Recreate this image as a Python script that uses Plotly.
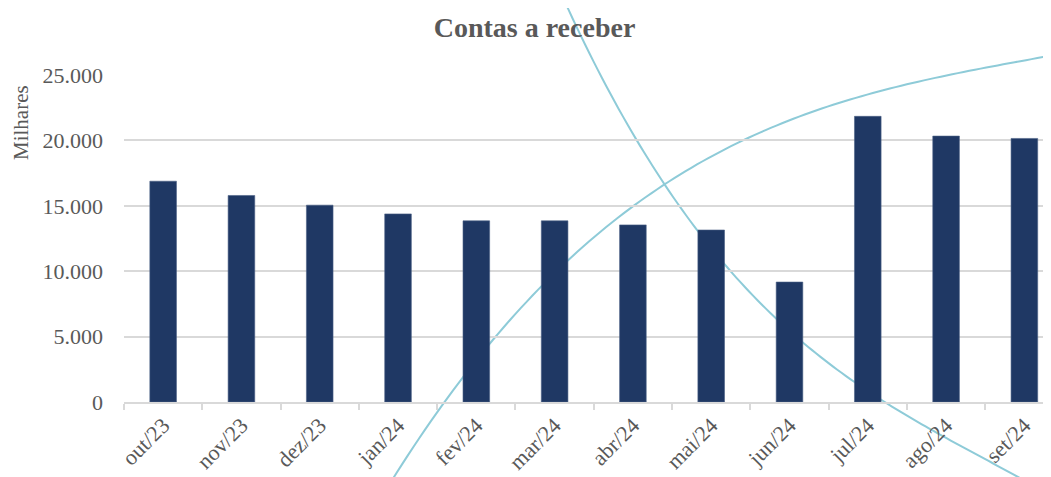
import numpy as np
import plotly.graph_objects as go

# ---- data ----
categories = ["out/23", "nov/23", "dez/23", "jan/24", "fev/24", "mar/24",
              "abr/24", "mai/24", "jun/24", "jul/24", "ago/24", "set/24"]
values = [16880, 15790, 15050, 14380, 13850, 13850,
          13540, 13150, 9170, 21840, 20330, 20150]
y_ticks = [0, 5000, 10000, 15000, 20000, 25000]
y_tick_labels = ["0", "5.000", "10.000", "15.000", "20.000", "25.000"]

# ---- layout geometry (figure pixels; page has an 8px body margin) ----
OFF = 8
W, H = 1051 - OFF, 477 - OFF
ML, MR, MT, MB = 124 - OFF, 0, 75 - OFF, 75
PW, PH = W - ML - MR, H - MT - MB

# decorative background arcs: anchor positions (page pixels)
arc_up = [(397, 477), (440, 403), (493, 337), (567, 263), (640, 203),
          (740, 143), (851, 100), (932, 75), (1051, 57)]
arc_down = [(565, 0), (597, 68), (635, 140), (665, 189), (725, 262),
            (777, 317), (803, 340), (855, 382), (882, 403), (933, 433),
            (983, 458), (1017, 475)]


def to_paper(px, py):
    return ((px - OFF - ML) / PW, (H - MB - (py - OFF)) / PH)


def smooth_path(pts, x0, x1, deg=3):
    xs = np.array([p[0] for p in pts], float)
    ys = np.array([p[1] for p in pts], float)
    coef = np.polyfit(xs, ys, deg)
    sx = np.linspace(x0, x1, 120)
    sy = np.polyval(coef, sx)
    parts = []
    for i, (a, b) in enumerate(zip(sx, sy)):
        u, v = to_paper(a, b)
        parts.append(("M" if i == 0 else "L") + " %.5f %.5f" % (u, v))
    return " ".join(parts)


fig = go.Figure()
fig.add_trace(go.Bar(
    x=categories, y=values,
    marker=dict(color="#1F3864", line=dict(color="#4A5F85", width=0.6)),
    hoverinfo="x+y",
))

shapes = [
    dict(type="path", xref="paper", yref="paper", path=smooth_path(arc_up, 385, 1060),
         line=dict(color="#8ECBD8", width=2), layer="below"),
    dict(type="path", xref="paper", yref="paper", path=smooth_path(arc_down, 560, 1060),
         line=dict(color="#8ECBD8", width=2), layer="below"),
]

serif = "Liberation Serif, Times New Roman, serif"
fig.update_layout(
    width=W, height=H,
    margin=dict(l=ML, r=MR, t=MT, b=MB, pad=0),
    paper_bgcolor="white", plot_bgcolor="rgba(0,0,0,0)",
    font=dict(family=serif, color="#595959", size=22),
    title=dict(text="<b>Contas a receber</b>", x=(534.5 - OFF) / W, xref="container",
               xanchor="center", y=1 - (27 - OFF) / H, yref="container", yanchor="middle",
               font=dict(family=serif, size=28, color="#595959")),
    bargap=0.66,
    showlegend=False,
    shapes=shapes,
    xaxis=dict(type="category", range=[-0.5, 11.34], tickangle=-45,
               showline=True, linecolor="#D9D9D9", linewidth=1.5,
               ticks="outside", ticklen=6, tickcolor="#D9D9D9", tickwidth=1.5,
               tickson="boundaries", showgrid=False,
               tickfont=dict(family=serif, size=22, color="#595959")),
    yaxis=dict(range=[0, 25000], tickvals=y_ticks, ticktext=y_tick_labels,
               showgrid=True, gridcolor="#D9D9D9", gridwidth=1.5,
               zeroline=False, showline=False, ticks="",
               ticklabelstandoff=20,
               tickfont=dict(family=serif, size=22, color="#595959")),
    annotations=[dict(text="Milhares", xref="paper", yref="paper",
                      x=(21 - OFF - ML) / PW, y=(H - MB - (123 - OFF)) / PH, textangle=-90,
                      showarrow=False, xanchor="center", yanchor="middle",
                      font=dict(family=serif, size=21, color="#595959"))],
)

fig.write_html("out.html")
